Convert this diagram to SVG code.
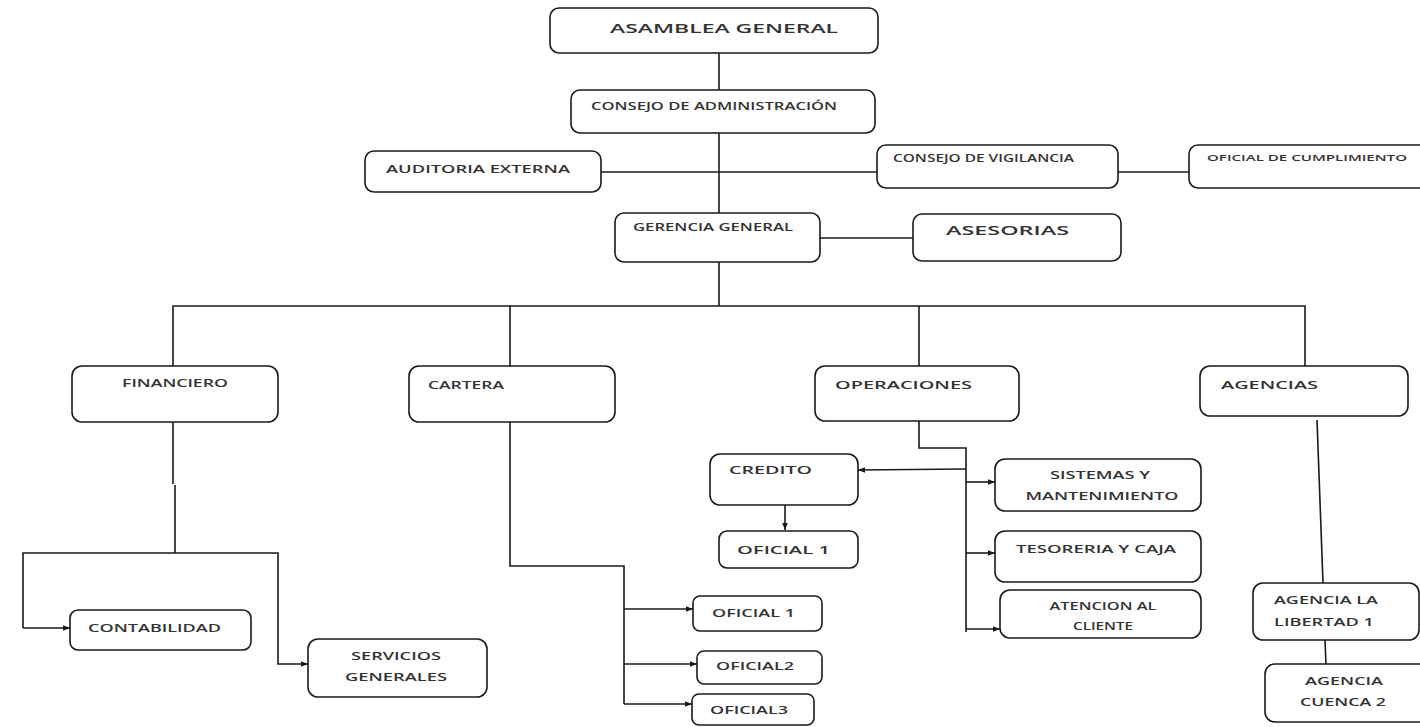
<svg xmlns="http://www.w3.org/2000/svg" width="1420" height="727" viewBox="0 0 1420 727">
<style>
.box{fill:#fff;stroke:#1a1a1a;stroke-width:1.6}
.ln{fill:none;stroke:#1a1a1a;stroke-width:1.6}
text{font-family:"Open Sans","Liberation Sans",sans-serif;fill:#333;font-weight:600}
.s13{font-size:13px}
.s11{font-size:11px}
.s10{font-size:10px}
.s9{font-size:9px}
</style>
<defs>
<marker id="arr" viewBox="0 0 10 10" refX="10" refY="5" markerWidth="7" markerHeight="7" markerUnits="userSpaceOnUse" orient="auto">
<path d="M0,1 L10,5 L0,9 Z" fill="#1a1a1a"/>
</marker>
</defs>
<rect width="1420" height="727" fill="#fff"/>
<g id="connectors">
<line class="ln" x1="719" y1="53" x2="719" y2="90"/>
<line class="ln" x1="719" y1="133" x2="719" y2="213"/>
<line class="ln" x1="601" y1="172" x2="877" y2="172"/>
<line class="ln" x1="1118" y1="172" x2="1189" y2="172"/>
<line class="ln" x1="820" y1="238" x2="913" y2="238"/>
<line class="ln" x1="719" y1="262" x2="719" y2="306"/>
<polyline class="ln" points="173,367 173,306 1305,306 1305,367"/>
<line class="ln" x1="510" y1="306" x2="510" y2="367"/>
<line class="ln" x1="919" y1="306" x2="919" y2="367"/>
<line class="ln" x1="173" y1="422" x2="173" y2="484"/>
<line class="ln" x1="175" y1="485" x2="175" y2="553"/>
<polyline class="ln" points="23,628 23,553 278,553 278,664 308,664" marker-end="url(#arr)"/>
<line class="ln" x1="23" y1="628" x2="70" y2="628" marker-end="url(#arr)"/>
<polyline class="ln" points="510,422 510,566 624,566 624,704"/>
<line class="ln" x1="624" y1="609" x2="693" y2="609" marker-end="url(#arr)"/>
<line class="ln" x1="624" y1="664" x2="697" y2="664" marker-end="url(#arr)"/>
<line class="ln" x1="624" y1="704" x2="692" y2="704" marker-end="url(#arr)"/>
<polyline class="ln" points="919,421 919,448 966,448 966,632"/>
<line class="ln" x1="966" y1="469" x2="858" y2="470" marker-end="url(#arr)"/>
<line class="ln" x1="785" y1="505" x2="785" y2="530" marker-end="url(#arr)"/>
<line class="ln" x1="966" y1="482" x2="995" y2="482" marker-end="url(#arr)"/>
<line class="ln" x1="966" y1="553" x2="995" y2="553" marker-end="url(#arr)"/>
<line class="ln" x1="966" y1="629" x2="1000" y2="629" marker-end="url(#arr)"/>
<line class="ln" x1="1317" y1="420" x2="1323" y2="583"/>
<line class="ln" x1="1325" y1="640" x2="1326" y2="665"/>
</g>
<g id="asamblea"><rect class="box" x="550" y="8" width="328" height="45" rx="9"/><text class="s13" x="610" y="33" textLength="228" lengthAdjust="spacingAndGlyphs">ASAMBLEA GENERAL</text></g>
<g id="consejo-admin"><rect class="box" x="571" y="90" width="304" height="43" rx="9"/><text class="s10" x="591" y="110" textLength="246" lengthAdjust="spacingAndGlyphs">CONSEJO DE ADMINISTRACIÓN</text></g>
<g id="auditoria"><rect class="box" x="365" y="151" width="236" height="41" rx="9"/><text class="s11" x="386" y="173" textLength="184" lengthAdjust="spacingAndGlyphs">AUDITORIA EXTERNA</text></g>
<g id="consejo-vigilancia"><rect class="box" x="877" y="145" width="241" height="43" rx="9"/><text class="s11" x="893" y="162" textLength="181" lengthAdjust="spacingAndGlyphs">CONSEJO DE VIGILANCIA</text></g>
<g id="oficial-cumplimiento"><rect class="box" x="1189" y="145" width="240" height="43" rx="9"/><text class="s9" x="1207" y="161" textLength="200" lengthAdjust="spacingAndGlyphs">OFICIAL DE CUMPLIMIENTO</text></g>
<g id="gerencia"><rect class="box" x="615" y="213" width="205" height="49" rx="9"/><text class="s10" x="633" y="231" textLength="160" lengthAdjust="spacingAndGlyphs">GERENCIA GENERAL</text></g>
<g id="asesorias"><rect class="box" x="913" y="214" width="208" height="47" rx="9"/><text class="s13" x="946" y="235" textLength="123" lengthAdjust="spacingAndGlyphs">ASESORIAS</text></g>
<g id="financiero"><rect class="box" x="72" y="366" width="206" height="56" rx="10"/><text class="s10" x="122" y="387" textLength="106" lengthAdjust="spacingAndGlyphs">FINANCIERO</text></g>
<g id="cartera"><rect class="box" x="409" y="366" width="206" height="56" rx="10"/><text class="s11" x="428" y="389" textLength="76" lengthAdjust="spacingAndGlyphs">CARTERA</text></g>
<g id="operaciones"><rect class="box" x="815" y="366" width="204" height="55" rx="10"/><text class="s11" x="835" y="389" textLength="137" lengthAdjust="spacingAndGlyphs">OPERACIONES</text></g>
<g id="agencias"><rect class="box" x="1200" y="366" width="208" height="50" rx="10"/><text class="s11" x="1221" y="389" textLength="97" lengthAdjust="spacingAndGlyphs">AGENCIAS</text></g>
<g id="credito"><rect class="box" x="710" y="454" width="148" height="51" rx="10"/><text class="s11" x="729" y="474" textLength="83" lengthAdjust="spacingAndGlyphs">CREDITO</text></g>
<g id="oficial1-credito"><rect class="box" x="719" y="531" width="139" height="37" rx="8"/><text class="s11" x="737" y="554" textLength="93" lengthAdjust="spacingAndGlyphs">OFICIAL 1</text></g>
<g id="sistemas"><rect class="box" x="995" y="459" width="206" height="52" rx="10"/><text class="s10" x="1100" y="479" text-anchor="middle" textLength="100" lengthAdjust="spacingAndGlyphs">SISTEMAS Y</text><text class="s10" x="1102" y="500" text-anchor="middle" textLength="153" lengthAdjust="spacingAndGlyphs">MANTENIMIENTO</text></g>
<g id="tesoreria"><rect class="box" x="995" y="531" width="206" height="51" rx="10"/><text class="s10" x="1016" y="553" textLength="160" lengthAdjust="spacingAndGlyphs">TESORERIA Y CAJA</text></g>
<g id="atencion"><rect class="box" x="1000" y="590" width="201" height="48" rx="10"/><text class="s10" x="1103" y="610" text-anchor="middle" textLength="107" lengthAdjust="spacingAndGlyphs">ATENCION AL</text><text class="s10" x="1103" y="630" text-anchor="middle" textLength="60" lengthAdjust="spacingAndGlyphs">CLIENTE</text></g>
<g id="contabilidad"><rect class="box" x="70" y="610" width="181" height="40" rx="8"/><text class="s10" x="88" y="632" textLength="133" lengthAdjust="spacingAndGlyphs">CONTABILIDAD</text></g>
<g id="servicios"><rect class="box" x="308" y="639" width="179" height="58" rx="10"/><text class="s10" x="396" y="660" text-anchor="middle" textLength="90" lengthAdjust="spacingAndGlyphs">SERVICIOS</text><text class="s10" x="396" y="681" text-anchor="middle" textLength="102" lengthAdjust="spacingAndGlyphs">GENERALES</text></g>
<g id="oficial1-cartera"><rect class="box" x="693" y="596" width="129" height="35" rx="7"/><text class="s10" x="712" y="617" textLength="83" lengthAdjust="spacingAndGlyphs">OFICIAL 1</text></g>
<g id="oficial2"><rect class="box" x="697" y="651" width="125" height="33" rx="7"/><text class="s10" x="716" y="670" textLength="78" lengthAdjust="spacingAndGlyphs">OFICIAL2</text></g>
<g id="oficial3"><rect class="box" x="692" y="694" width="122" height="31" rx="7"/><text class="s10" x="710" y="714" textLength="78" lengthAdjust="spacingAndGlyphs">OFICIAL3</text></g>
<g id="agencia-libertad"><rect class="box" x="1253" y="583" width="166" height="57" rx="10"/><text class="s10" x="1274" y="604" textLength="104" lengthAdjust="spacingAndGlyphs">AGENCIA LA</text><text class="s10" x="1274" y="626" textLength="100" lengthAdjust="spacingAndGlyphs">LIBERTAD 1</text></g>
<g id="agencia-cuenca"><rect class="box" x="1265" y="664" width="165" height="58" rx="10"/><text class="s10" x="1344" y="685" text-anchor="middle" textLength="78" lengthAdjust="spacingAndGlyphs">AGENCIA</text><text class="s10" x="1343" y="706" text-anchor="middle" textLength="86" lengthAdjust="spacingAndGlyphs">CUENCA 2</text></g>
</svg>
